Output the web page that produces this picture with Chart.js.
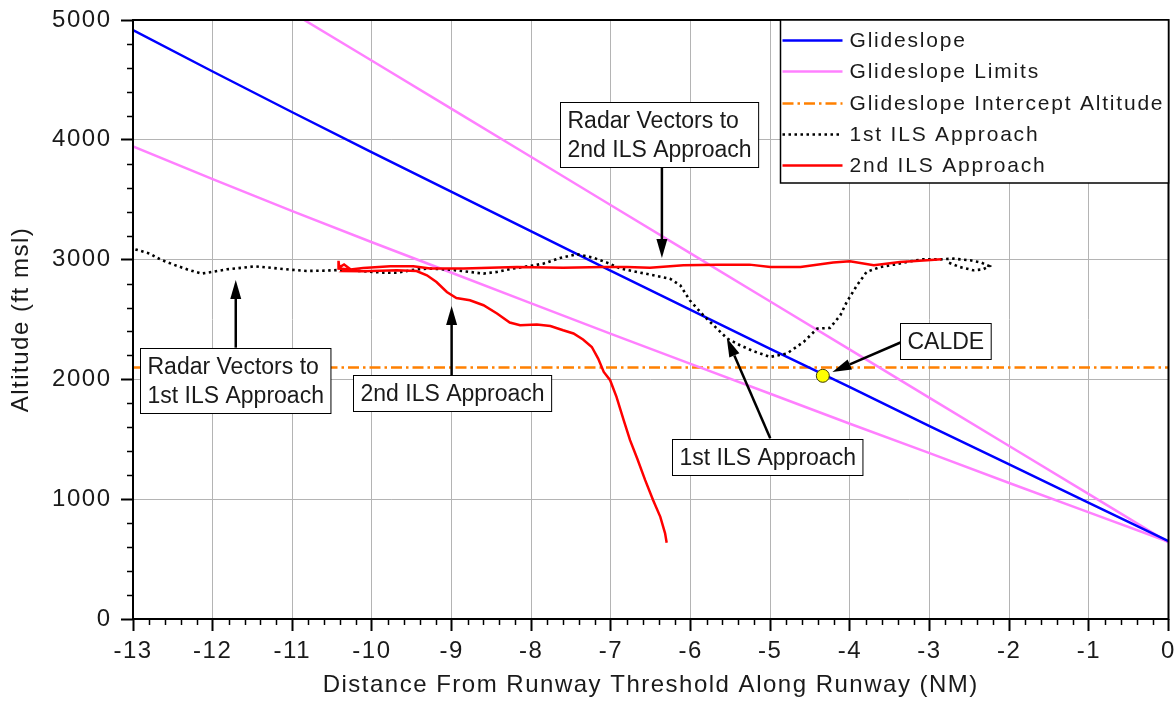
<!DOCTYPE html>
<html lang="en">
<head>
<meta charset="utf-8">
<title>Altitude vs Distance From Runway Threshold</title>
<script src="https://cdn.jsdelivr.net/npm/chart.js@4.4.1/dist/chart.umd.min.js"></script>
<style>
  html, body { margin: 0; padding: 0; background: #ffffff; }
  #box { position: relative; width: 1176px; height: 702px; }
</style>
</head>
<body>
<div id="box"><canvas id="chart" width="1176" height="702"></canvas></div>
<script>
// Axis ticks
const xTicks = [-13, -12, -11, -10, -9, -8, -7, -6, -5, -4, -3, -2, -1, 0];
const yTicks = [0, 1000, 2000, 3000, 4000, 5000];

// Glideslope and its limits (ft msl by distance in NM)
const gsDist = [-13, -12, -11, -10, -9, -8, -7, -6, -5, -4, -3, -2, -1, 0];
const glideslope = [4915, 4570, 4230, 3895, 3565, 3235, 2905, 2580, 2255, 1935, 1610, 1290, 970, 650];
const lowerLimit = [3945, 3672, 3405, 3145, 2890, 2635, 2380, 2130, 1880, 1630, 1385, 1135, 890, 645];
const upperDist = [-11, -10, -9, -8, -7, -6, -5, -4, -3, -2, -1, 0];
const upperLimit = [5060, 4660, 4258, 3856, 3454, 3052, 2650, 2248, 1846, 1444, 1042, 640];
const interceptDist = [-13, 0];
const interceptAlt = [2100, 2100];

// 1st ILS approach track
const ils1Dist = [-12.97, -12.79, -12.66, -12.49, -12.31, -12.14, -12.01, -11.82, -11.61, -11.47,
  -11.24, -11.03, -10.82, -10.57, -10.40, -10.10, -9.86, -9.69, -9.44, -9.27,
  -9.02, -8.77, -8.60, -8.43, -8.24, -8.01, -7.85, -7.64, -7.43, -7.22,
  -7.05, -6.88, -6.63, -6.42, -6.26, -6.13, -6.01, -5.84, -5.69, -5.54,
  -5.38, -5.21, -5.00, -4.79, -4.58, -4.41, -4.25, -4.12, -4.04, -3.91,
  -3.79, -3.62, -3.45, -3.24, -3.08, -2.87, -2.70, -2.49, -2.35, -2.25,
  -2.33, -2.45, -2.62, -2.78];
const ils1Alt = [3085, 3050, 3002, 2958, 2916, 2883, 2897, 2919, 2933, 2944,
  2930, 2916, 2905, 2908, 2914, 2903, 2891, 2890, 2919, 2925,
  2916, 2897, 2883, 2897, 2925, 2947, 2966, 3013, 3045, 3015,
  2975, 2925, 2891, 2863, 2841, 2786, 2660, 2535, 2438, 2341,
  2285, 2235, 2188, 2216, 2313, 2424, 2430, 2535, 2646, 2786,
  2897, 2938, 2958, 2986, 3002, 3002, 3008, 2994, 2975, 2945,
  2918, 2911, 2938, 2980];

// 2nd ILS approach track
const ils2Dist = [-2.85, -3.03, -3.37, -3.70, -4.00, -4.21, -4.62, -5.00, -5.26, -5.67,
  -6.09, -6.51, -6.80, -7.09, -7.60, -8.18, -8.52, -8.85, -9.27, -9.48,
  -9.77, -10.11, -10.27, -10.42, -10.42, -10.41, -10.35, -10.29, -10.36, -10.11,
  -9.69, -9.44, -9.31, -9.19, -9.06, -8.94, -8.77, -8.60, -8.43, -8.27,
  -8.14, -7.93, -7.76, -7.60, -7.47, -7.35, -7.24, -7.16, -7.09, -7.01,
  -6.93, -6.84, -6.76, -6.67, -6.57, -6.47, -6.38, -6.32, -6.30];
const ils2Alt = [3002, 2994, 2980, 2952, 2986, 2975, 2938, 2938, 2958, 2958,
  2952, 2933, 2938, 2938, 2933, 2938, 2933, 2925, 2925, 2945,
  2945, 2930, 2918, 2925, 2990, 2935, 2960, 2930, 2905, 2903,
  2911, 2905, 2869, 2813, 2730, 2680, 2661, 2619, 2550, 2475,
  2452, 2458, 2446, 2410, 2383, 2333, 2271, 2174, 2062, 1993,
  1854, 1660, 1493, 1340, 1159, 992, 853, 715, 636];

// Glideslope intercept fix
const caldeDist = [-4.34];
const caldeAlt = [2030];

// Callouts: box centre, arrow tail and arrow tip (NM, ft)
const noteText = [
  ['Radar Vectors to', '1st ILS Approach'],
  ['2nd ILS Approach'],
  ['Radar Vectors to', '2nd ILS Approach'],
  ['1st ILS Approach'],
  ['CALDE']
];
const noteX = [-11.72, -9.00, -6.40, -5.04, -2.80];
const noteY = [1987, 1885, 4048, 1355, 2322];
const arrowFromX = [-11.71, -9.00, -6.36, -5.00, -3.35];
const arrowFromY = [2265, 2031, 3765, 1508, 2312];
const arrowToX = [-11.71, -9.00, -6.36, -5.545, -4.22];
const arrowToY = [2830, 2613, 3013, 2346, 2062];

// Legend entries
const legendLabels = ['Glideslope', 'Glideslope Limits', 'Glideslope Intercept Altitude', '1st ILS Approach', '2nd ILS Approach'];

const FONT = '"Liberation Sans", Arial, Helvetica, sans-serif';
const TEXT = '#1a1a1a';
const BLUE = '#0000ff', PINK = '#ff80ff', ORANGE = '#ff8000', BLACK = '#000000', RED = '#ff0000';
const DASH_DOT = [11, 4, 2.5, 4];
const DOTS = [2.5, 3.5];

const pts = (xs, ys) => xs.map((x, i) => ({ x: x, y: ys[i] }));
const track = (label, xs, ys, color, width, dash) => ({
  label: label, data: pts(xs, ys), showLine: true, borderColor: color, backgroundColor: color,
  borderWidth: width, borderDash: dash || [], borderCapStyle: 'butt', pointRadius: 0,
  pointHoverRadius: 0, tension: 0
});

// canvas letter spacing for the axis text
const spacing = {
  id: 'spacing',
  beforeLayout(chart) { chart.ctx.letterSpacing = '1.5px'; },
  beforeDraw(chart) { chart.ctx.letterSpacing = '1.5px'; }
};

// plot frame and minor tick marks
const frame = {
  id: 'frame',
  afterDatasetsDraw(chart) {
    const ctx = chart.ctx, a = chart.chartArea, xs = chart.scales.x, ys = chart.scales.y;
    ctx.save();
    ctx.strokeStyle = '#000';
    ctx.lineWidth = 1.5;
    ctx.beginPath();
    for (let i = 1; i < 65; i++) {
      if (i % 5 === 0) continue;
      const px = Math.round(xs.getPixelForValue(-13 + i * 0.2)) + 0.5;
      ctx.moveTo(px, a.bottom); ctx.lineTo(px, a.bottom + 6);
    }
    for (let i = 1; i < 25; i++) {
      if (i % 5 === 0) continue;
      const py = Math.round(ys.getPixelForValue(i * 200)) + 0.5;
      ctx.moveTo(a.left - 6, py); ctx.lineTo(a.left, py);
    }
    ctx.stroke();
    ctx.lineWidth = 2;
    ctx.strokeRect(a.left, a.top, a.right - a.left, a.bottom - a.top);
    ctx.restore();
  }
};

function drawArrow(ctx, x0, y0, x1, y1) {
  const ang = Math.atan2(y1 - y0, x1 - x0);
  const head = 19, half = 5.5;
  const bx = x1 - head * Math.cos(ang), by = y1 - head * Math.sin(ang);
  ctx.beginPath();
  ctx.moveTo(x0, y0); ctx.lineTo(bx, by);
  ctx.stroke();
  ctx.beginPath();
  ctx.moveTo(x1, y1);
  ctx.lineTo(bx + half * Math.sin(ang), by - half * Math.cos(ang));
  ctx.lineTo(bx - half * Math.sin(ang), by + half * Math.cos(ang));
  ctx.closePath();
  ctx.fill();
}

// callout boxes with arrows
const notes = {
  id: 'notes',
  afterDraw(chart) {
    const ctx = chart.ctx, xs = chart.scales.x, ys = chart.scales.y;
    ctx.save();
    ctx.letterSpacing = '0px';
    ctx.font = '23px ' + FONT;
    ctx.strokeStyle = '#000'; ctx.fillStyle = '#000'; ctx.lineWidth = 2.5;
    const lineH = 29, padX = 7, padY = 3.5;
    noteText.forEach((lines, i) => {
      drawArrow(ctx, xs.getPixelForValue(arrowFromX[i]), ys.getPixelForValue(arrowFromY[i]),
        xs.getPixelForValue(arrowToX[i]), ys.getPixelForValue(arrowToY[i]));
      const w = Math.max.apply(null, lines.map(t => ctx.measureText(t).width)) + 2 * padX;
      const h = lines.length * lineH + 2 * padY;
      const left = Math.round(xs.getPixelForValue(noteX[i]) - w / 2) + 0.5;
      const top = Math.round(ys.getPixelForValue(noteY[i]) - h / 2) + 0.5;
      ctx.fillStyle = '#fff';
      ctx.fillRect(left, top, w, h);
      ctx.lineWidth = 1;
      ctx.strokeStyle = '#000';
      ctx.strokeRect(left, top, w, h);
      ctx.fillStyle = TEXT;
      ctx.textAlign = 'left'; ctx.textBaseline = 'middle';
      lines.forEach((t, k) => ctx.fillText(t, left + padX, top + padY + lineH * (k + 0.5) + 1));
      ctx.fillStyle = '#000'; ctx.lineWidth = 2.5;
    });
    ctx.restore();
  }
};

// legend box in the top right corner of the plot
const legendBox = {
  id: 'legendBox',
  afterDraw(chart) {
    const ctx = chart.ctx, a = chart.chartArea;
    const w = 388, h = 163, left = a.right - w, top = a.top;
    const styles = [
      { c: BLUE, d: [], lw: 2.5 }, { c: PINK, d: [], lw: 2.5 }, { c: ORANGE, d: DASH_DOT, lw: 2.5 },
      { c: BLACK, d: DOTS, lw: 2.5 }, { c: RED, d: [], lw: 2.5 }
    ];
    ctx.save();
    ctx.fillStyle = '#fff';
    ctx.fillRect(left, top, w, h);
    ctx.strokeStyle = '#000'; ctx.lineWidth = 1.5;
    ctx.strokeRect(left, top, w, h);
    ctx.font = '21px ' + FONT;
    ctx.letterSpacing = '1.8px';
    ctx.textAlign = 'left'; ctx.textBaseline = 'middle';
    legendLabels.forEach((t, i) => {
      const y = Math.round(top + 20 + i * 31.3) + 0.5;
      const s = styles[i];
      ctx.strokeStyle = s.c; ctx.lineWidth = s.lw; ctx.setLineDash(s.d); ctx.lineCap = 'butt';
      ctx.beginPath(); ctx.moveTo(left + 2, y); ctx.lineTo(left + 62, y); ctx.stroke();
      ctx.setLineDash([]);
      ctx.fillStyle = TEXT;
      ctx.fillText(t, left + 69, y + 1);
    });
    ctx.restore();
  }
};

const axisFont = { family: FONT, size: 24 };

new Chart(document.getElementById('chart'), {
  type: 'scatter',
  data: {
    datasets: [
      { label: 'CALDE', data: pts(caldeDist, caldeAlt), showLine: false, pointRadius: 6.5,
        pointHoverRadius: 6.5, pointBackgroundColor: '#ffff00', pointBorderColor: '#3a3a00', pointBorderWidth: 1 },
      track('2nd ILS Approach', ils2Dist, ils2Alt, RED, 2.5),
      track('1st ILS Approach', ils1Dist, ils1Alt, BLACK, 2.6, DOTS),
      track('Glideslope', gsDist, glideslope, BLUE, 2.5),
      track('Glideslope Limits', upperDist, upperLimit, PINK, 2.5),
      track('Glideslope Limits', gsDist, lowerLimit, PINK, 2.5),
      track('Glideslope Intercept Altitude', interceptDist, interceptAlt, ORANGE, 2.5, DASH_DOT)
    ]
  },
  options: {
    responsive: false,
    animation: false,
    devicePixelRatio: 1,
    events: [],
    layout: { padding: { top: 20, right: 7, bottom: 0, left: 0 } },
    plugins: { legend: { display: false }, tooltip: { enabled: false } },
    scales: {
      x: {
        type: 'linear', min: -13, max: 0,
        afterBuildTicks: s => { s.ticks = xTicks.map(v => ({ value: v })); },
        afterFit: s => { s.height = 83; s.paddingLeft = 0; s.paddingRight = 0; },
        ticks: { font: axisFont, color: TEXT, padding: 6, maxRotation: 0, autoSkip: false, callback: v => String(v) },
        grid: { color: '#b4b4b4', lineWidth: 1, tickColor: '#000', tickLength: 12, tickWidth: 2 },
        border: { display: false },
        title: { display: true, text: 'Distance From Runway Threshold Along Runway (NM)', font: axisFont,
          color: TEXT, padding: { top: 0, bottom: 2 } }
      },
      y: {
        type: 'linear', min: 0, max: 5000,
        afterBuildTicks: s => { s.ticks = yTicks.map(v => ({ value: v })); },
        afterFit: s => { s.width = 133; s.paddingTop = 0; s.paddingBottom = 0; },
        ticks: { font: axisFont, color: TEXT, padding: 9.5, callback: v => String(v) },
        grid: { color: '#b4b4b4', lineWidth: 1, tickColor: '#000', tickLength: 12, tickWidth: 2 },
        border: { display: false },
        title: { display: true, text: 'Altitude (ft msl)', font: axisFont, color: TEXT, padding: { top: 6.5, bottom: 0 } }
      }
    }
  },
  plugins: [spacing, frame, notes, legendBox]
});
</script>
</body>
</html>
